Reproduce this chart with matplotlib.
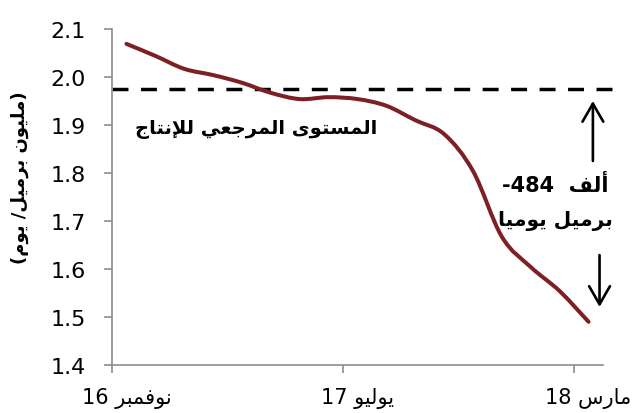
import re
import matplotlib
matplotlib.use('Agg')
import matplotlib.pyplot as plt
from matplotlib.path import Path
from matplotlib.patches import PathPatch

# ---------------------------------------------------DATA---------------------------------------------------
# month index from Nov 2016 (data sits mid-month)
months = [0.5, 1.5, 2.5, 3.5, 4.5, 5.5, 6.5, 7.5, 8.5, 9.5, 10.5, 11.5, 12.5, 13.5, 14.5, 15.5, 16.5]
production = [2.069, 2.044, 2.017, 2.004, 1.988, 1.967, 1.954, 1.958, 1.954, 1.940,
              1.910, 1.881, 1.804, 1.667, 1.604, 1.554, 1.490]
reference_level = 1.975
yticks = [1.4, 1.5, 1.6, 1.7, 1.8, 1.9, 2.0, 2.1]
xtick_pos = [0, 8, 16]
xlabel_pos = [0.5, 8.5, 16.5]
xlabels = ['نوفمبر 16', 'يوليو 17', 'مارس 18']
ylabel = '(مليون برميل/ يوم)'
ref_text = 'المستوى المرجعي للإنتاج'
diff_line1 = 'ألف  484-'
diff_line2 = 'برميل يوميا'

# ------------------------------------------- arabic shaping (no bidi lib here) --------------------------------
FORMS = {
    'ا': ('\uFE8D', '\uFE8E', None, None),
    'أ': ('\uFE83', '\uFE84', None, None),
    'إ': ('\uFE87', '\uFE88', None, None),
    'ب': ('\uFE8F', '\uFE90', '\uFE91', '\uFE92'),
    'ت': ('\uFE95', '\uFE96', '\uFE97', '\uFE98'),
    'ج': ('\uFE9D', '\uFE9E', '\uFE9F', '\uFEA0'),
    'ر': ('\uFEAD', '\uFEAE', None, None),
    'س': ('\uFEB1', '\uFEB2', '\uFEB3', '\uFEB4'),
    'ع': ('\uFEC9', '\uFECA', '\uFECB', '\uFECC'),
    'ف': ('\uFED1', '\uFED2', '\uFED3', '\uFED4'),
    'ل': ('\uFEDD', '\uFEDE', '\uFEDF', '\uFEE0'),
    'م': ('\uFEE1', '\uFEE2', '\uFEE3', '\uFEE4'),
    'ن': ('\uFEE5', '\uFEE6', '\uFEE7', '\uFEE8'),
    'و': ('\uFEED', '\uFEEE', None, None),
    'ى': ('\uFEEF', '\uFEF0', None, None),
    'ي': ('\uFEF1', '\uFEF2', '\uFEF3', '\uFEF4'),
}
LAM_ALEF = {'ا': ('\uFEFB', '\uFEFC'), 'أ': ('\uFEF7', '\uFEF8'), 'إ': ('\uFEF9', '\uFEFA')}
MIRROR = str.maketrans('()', ')(')


def shape(s):
    chars = []
    i = 0
    while i < len(s):
        if s[i] == 'ل' and i + 1 < len(s) and s[i + 1] in LAM_ALEF:
            chars.append(('LA', s[i + 1]))
            i += 2
        else:
            chars.append(s[i])
            i += 1
    dual = lambda c: isinstance(c, str) and c in FORMS and FORMS[c][2] is not None
    letter = lambda c: isinstance(c, tuple) or (c in FORMS)
    out = ''
    for k, c in enumerate(chars):
        prev = chars[k - 1] if k > 0 else None
        nxt = chars[k + 1] if k + 1 < len(chars) else None
        jp = prev is not None and dual(prev)
        if isinstance(c, tuple):
            out += LAM_ALEF[c[1]][1 if jp else 0]
            continue
        if c not in FORMS:
            out += c
            continue
        jn = dual(c) and nxt is not None and letter(nxt)
        f = FORMS[c]
        if jp and jn:
            out += f[3]
        elif jp:
            out += f[1]
        elif jn:
            out += f[2]
        else:
            out += f[0]
    return out


def ar(s):
    t = shape(s)
    runs = re.findall(r'[0-9.]+|[^0-9.]+', t)
    vis = ''
    for r in reversed(runs):
        if r[0].isdigit():
            vis += r
        else:
            vis += r[::-1].translate(MIRROR)
    return vis


def smooth_path(x, y):
    # excel-like smoothed line: catmull-rom segments as cubic beziers
    pts = list(zip(x, y))
    verts = [pts[0]]
    codes = [Path.MOVETO]
    n = len(pts)
    for i in range(n - 1):
        p0 = pts[i - 1] if i > 0 else pts[i]
        p1 = pts[i]
        p2 = pts[i + 1]
        p3 = pts[i + 2] if i + 2 < n else pts[i + 1]
        c1 = (p1[0] + (p2[0] - p0[0]) / 6, p1[1] + (p2[1] - p0[1]) / 6)
        c2 = (p2[0] - (p3[0] - p1[0]) / 6, p2[1] - (p3[1] - p1[1]) / 6)
        verts += [c1, c2, p2]
        codes += [Path.CURVE4] * 3
    return Path(verts, codes)


plt.rcParams['font.family'] = ['DejaVu Sans']

# ---------------------------------------------------PLOT---------------------------------------------------
fig = plt.figure(figsize=(6.41, 4.14), dpi=100)
ax = fig.add_axes([112 / 641, 48 / 414, 491 / 641, 336 / 414])

ax.add_patch(PathPatch(smooth_path(months, production), fill=False, edgecolor='#7e1f24', lw=2.9,
                       capstyle='round', joinstyle='round', zorder=3))
ax.plot([0, 17.3], [reference_level, reference_level], color='black', lw=2.5,
        ls=(0, (4.6, 3.6)), clip_on=False, zorder=2)

ax.set_xlim(0, 17)
ax.set_ylim(1.4, 2.1)
for s in ['top', 'right']:
    ax.spines[s].set_visible(False)
for s in ['left', 'bottom']:
    ax.spines[s].set_color('#8c8c8c')
    ax.spines[s].set_linewidth(1.2)

ax.set_yticks(yticks)
ax.set_yticklabels(['%.1f' % v for v in yticks])
ax.tick_params(axis='y', length=5.8, width=1.2, color='#8c8c8c', pad=13, labelsize=16)

ax.set_xticks(xtick_pos)
ax.set_xticklabels([])
ax.tick_params(axis='x', which='major', length=5.8, width=1.2, color='#8c8c8c')
ax.set_xticks(xlabel_pos, minor=True)
ax.set_xticklabels([ar(l) for l in xlabels], minor=True)
ax.tick_params(axis='x', which='minor', length=0, pad=16, labelsize=15)

fig.text(20 / 641, 1 - 178 / 414, ar(ylabel), rotation=90, ha='center', va='center',
         fontsize=13, fontweight='bold')

ax.text(4.99, 1.892, ar(ref_text), ha='center', va='center', fontsize=14, fontweight='bold')
ax.text(15.34, 1.777, ar(diff_line1), ha='center', va='center', fontsize=15, fontweight='bold')
ax.text(15.34, 1.702, ar(diff_line2), ha='center', va='center', fontsize=14.5, fontweight='bold')

arrow = dict(arrowstyle='->,head_length=1.3,head_width=0.75', lw=1.9, color='black',
             shrinkA=0, shrinkB=0, mutation_scale=10)
ax.annotate('', xy=(16.65, 1.95), xytext=(16.65, 1.825), arrowprops=arrow, annotation_clip=False)
ax.annotate('', xy=(16.88, 1.521), xytext=(16.88, 1.629), arrowprops=arrow, annotation_clip=False)

fig.savefig('out.png', dpi=100)
